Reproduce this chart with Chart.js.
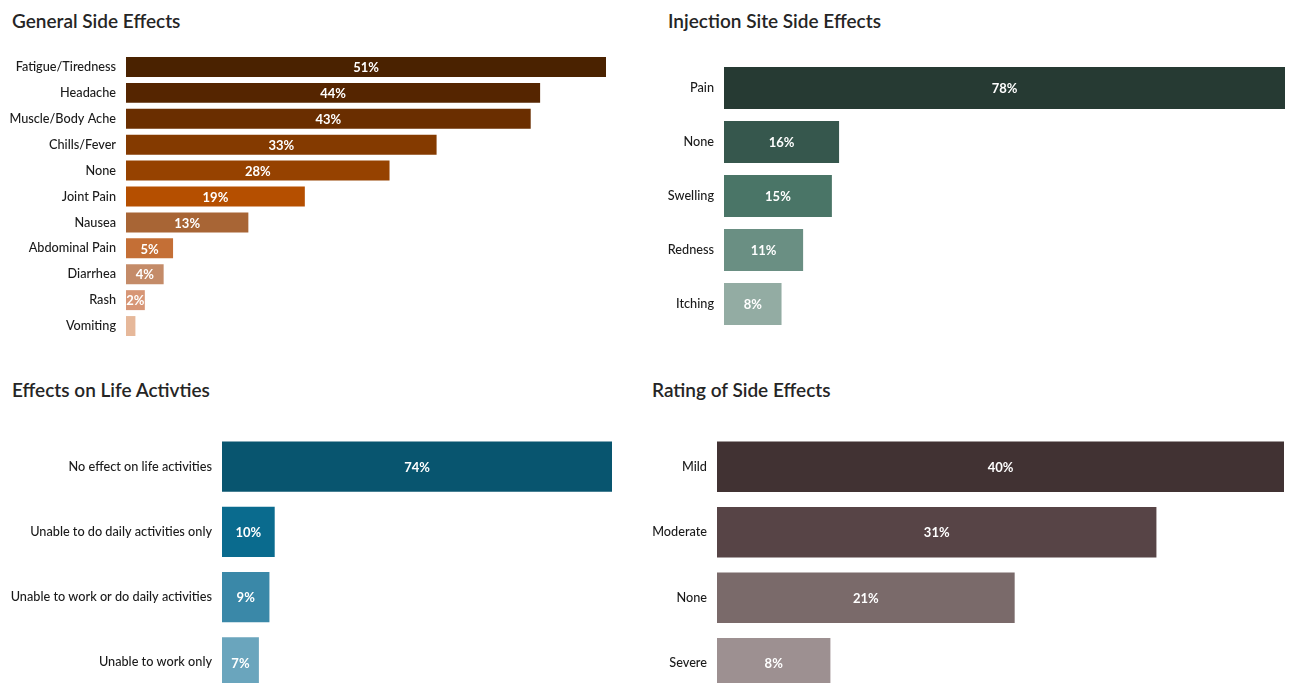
<!DOCTYPE html>
<html>
<head>
<meta charset="utf-8">
<script src="https://cdn.jsdelivr.net/npm/chart.js@4"></script>
<style>
  html, body { margin: 0; padding: 0; background: #fff; overflow: hidden; }
  body { width: 1290px; height: 683px; position: relative; font-family: Lato, "Open Sans", sans-serif; }
  .box { position: absolute; }
  .title { position: absolute; font-size: 19px; font-weight: 600; color: #252525; line-height: 24px; white-space: nowrap; }
</style>
</head>
<body>
<div class="title" style="left:12px;top:9px">General Side Effects</div>
<div class="title" style="left:668px;top:9px">Injection Site Side Effects</div>
<div class="title" style="left:12px;top:378px">Effects on Life Activties</div>
<div class="title" style="left:652px;top:378px">Rating of Side Effects</div>

<div class="box" style="left:0;top:54px;width:606px;height:285px"><canvas id="generalChart"></canvas></div>
<div class="box" style="left:640px;top:61px;width:645px;height:270px"><canvas id="injectionChart"></canvas></div>
<div class="box" style="left:0;top:434px;width:612px;height:261px"><canvas id="lifeChart"></canvas></div>
<div class="box" style="left:640px;top:434px;width:644px;height:262px"><canvas id="ratingChart"></canvas></div>
<script>
// ---- data ----
const generalLabels = ["Fatigue/Tiredness", "Headache", "Muscle/Body Ache", "Chills/Fever", "None", "Joint Pain", "Nausea", "Abdominal Pain", "Diarrhea", "Rash", "Vomiting"];
const generalValues = [51, 44, 43, 33, 28, 19, 13, 5, 4, 2, 1];

const injectionLabels = ["Pain", "None", "Swelling", "Redness", "Itching"];
const injectionValues = [78, 16, 15, 11, 8];

const lifeLabels = ["No effect on life activities", "Unable to do daily activities only", "Unable to work or do daily activities", "Unable to work only"];
const lifeValues = [74, 10, 9, 7];

const ratingLabels = ["Mild", "Moderate", "None", "Severe"];
const ratingValues = [40, 31, 21, 8];

const FONT = "Lato, 'Open Sans', sans-serif";

// white % labels in the middle of each bar
const barValueLabels = {
    id: "barValueLabels",
    afterDatasetsDraw(chart) {
        const ctx = chart.ctx;
        const meta = chart.getDatasetMeta(0);
        const values = chart.data.datasets[0].data;
        ctx.save();
        ctx.fillStyle = "#ffffff";
        ctx.font = "bold 13px " + FONT;
        ctx.textAlign = "center";
        ctx.textBaseline = "middle";
        meta.data.forEach(function (bar, i) {
            if (values[i] < 2) return; // too small, no label
            ctx.fillText(values[i] + "%", (bar.x + bar.base) / 2, bar.y + 1);
        });
        ctx.restore();
    }
};

function makeChart(id, labels, values, colors, axisWidth, barPct) {
    return new Chart(document.getElementById(id), {
        type: "bar",
        data: {
            labels: labels,
            datasets: [{
                data: values,
                backgroundColor: colors,
                borderWidth: 0,
                barPercentage: barPct,
                categoryPercentage: 1
            }]
        },
        options: {
            indexAxis: "y",
            responsive: true,
            maintainAspectRatio: false,
            animation: false,
            layout: { padding: 0 },
            plugins: {
                legend: { display: false },
                tooltip: { enabled: false }
            },
            scales: {
                x: {
                    display: false,
                    min: 0,
                    max: Math.max.apply(null, values)
                },
                y: {
                    grid: { display: false, drawTicks: false },
                    border: { display: false },
                    ticks: {
                        color: "#1a1a1a",
                        padding: 10,
                        font: { family: FONT, size: 12.7, weight: "500" }
                    },
                    afterFit: function (scale) {
                        scale.width = axisWidth;
                        // let the bars use the full height of the box
                        scale.paddingTop = 0;
                        scale.paddingBottom = 0;
                    }
                }
            }
        },
        plugins: [barValueLabels]
    });
}

makeChart("generalChart", generalLabels, generalValues,
    ["#4a2200", "#552500", "#6a2e00", "#843a00", "#964200", "#b54f00", "#a86535", "#c46f36", "#c48b68", "#d79676", "#e6b89a"],
    126, 0.77);

makeChart("injectionChart", injectionLabels, injectionValues,
    ["#263a33", "#36574d", "#4a7567", "#6a8f83", "#93aca3"],
    84, 0.78);

makeChart("lifeChart", lifeLabels, lifeValues,
    ["#08556f", "#0a6b8e", "#3a88a8", "#6aa5bd"],
    222, 0.77);

makeChart("ratingChart", ratingLabels, ratingValues,
    ["#413233", "#574446", "#7a6a6a", "#9d9091"],
    77, 0.77);
</script>
</body>
</html>
